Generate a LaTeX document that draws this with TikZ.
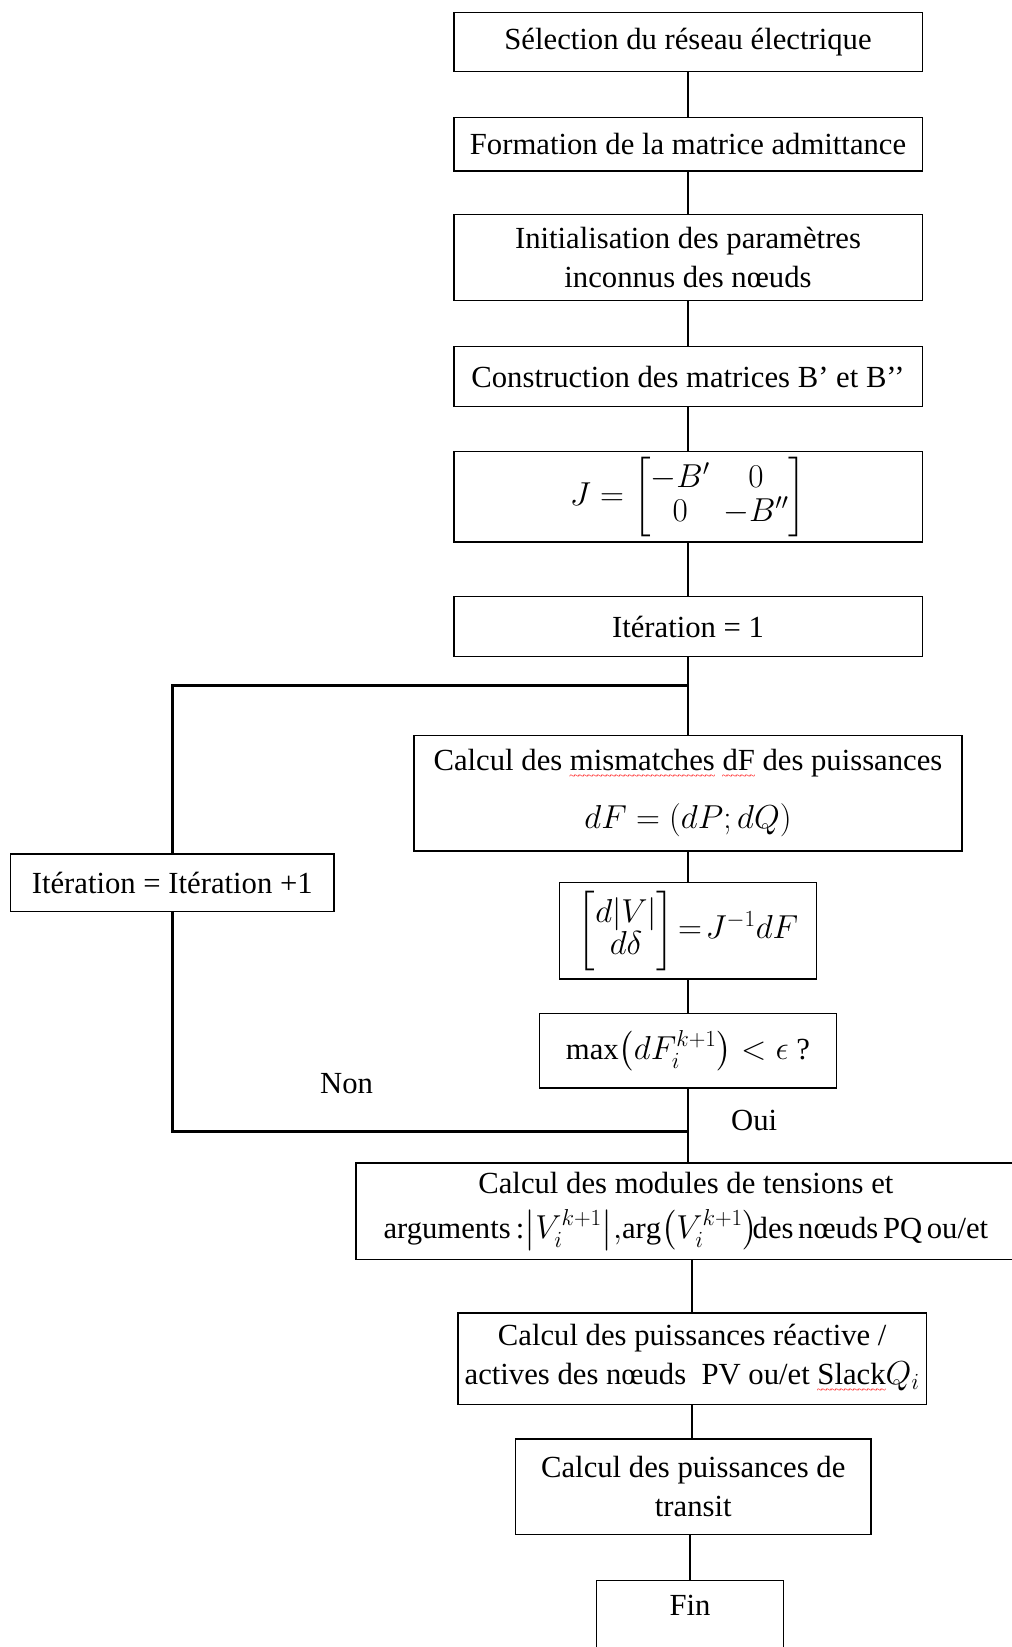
\documentclass[tikz,border=0pt]{standalone}
\usepackage{fontspec}
\setmainfont{Liberation Serif}
\usepackage{amsmath}
\usepackage{xcolor}
% red wavy underline, as left by a spell checker
\newcommand\spellwave[1]{\setbox0=\hbox{#1}\leavevmode
  \rlap{\lower7pt\hbox to\wd0{\color{red}\fontsize{8}{8}\selectfont
    \xleaders\hbox{\kern-0.5pt\textasciitilde\kern-0.5pt}\hfill}}#1}
\newcommand\uu{0.78735pt}

\begin{document}
\begin{tikzpicture}[x=0.78735pt, y=-0.78735pt,
  stepbox/.style={draw, line width=1.1pt, inner sep=0pt, align=center,
    font=\fontsize{23}{29}\selectfont},
  link/.style={line width=1.9pt},
  looplink/.style={line width=2.3pt},
  plain/.style={inner sep=0pt, font=\fontsize{23}{29}\selectfont}]
\useasboundingbox (0,0) rectangle (963,1568);

% main column
\node[stepbox, minimum width=446*\uu, minimum height=56*\uu] (b1) at (655,40)
  {Sélection du réseau électrique};
\node[stepbox, minimum width=446*\uu, minimum height=51*\uu] (b2) at (655,137.5)
  {Formation de la matrice admittance};
\node[stepbox, minimum width=446*\uu, minimum height=82*\uu] (b3) at (655,245)
  {Initialisation des paramètres\\inconnus des nœuds};
\node[stepbox, minimum width=446*\uu, minimum height=57*\uu] (b4) at (655,358.5)
  {Construction des matrices B’ et B’’};
\node[stepbox, minimum width=446*\uu, minimum height=86*\uu] (b5) at (655,473)
  {\renewcommand\arraystretch{0.8}$J=\begin{bmatrix}-B' & 0\\ 0 & -B''\end{bmatrix}$};
\node[stepbox, minimum width=446*\uu, minimum height=57*\uu] (b6) at (655,596.5)
  {Itération = 1};
\node[stepbox, minimum width=522*\uu, minimum height=110*\uu] (b7) at (655,755)
  {Calcul des \spellwave{mismatches} \spellwave{dF} des puissances\\[15pt]$dF=(dP;dQ)$};
\node[stepbox, minimum width=245*\uu, minimum height=92*\uu] (b8) at (655,886)
  {\renewcommand\arraystretch{0.8}$\begin{bmatrix}d|V|\\ d\delta\end{bmatrix}\!=\!J^{-1}dF$};
\node[stepbox, minimum width=283*\uu, minimum height=71*\uu] (b9) at (655,1000.5)
  {$\max\!\left(dF_i^{k+1}\right)<\epsilon$ ?};

% loop box
\node[stepbox, minimum width=308*\uu, minimum height=55*\uu] (bl) at (164,840.5)
  {Itération = Itération +1};

% final steps
\node[stepbox, minimum width=628*\uu, minimum height=92*\uu] (b10) at (653,1153)
  {Calcul des modules de tensions et\\[5pt]
   {\spaceskip=3.5pt plus 1pt minus 1pt arguments\,:$\bigl|V_i^{k+1}\bigr|,\!\arg\bigl(V_i^{k+1}\bigr)\!$des nœuds PQ ou/et}};
\node[stepbox, minimum width=446*\uu, minimum height=87*\uu] (b11) at (659,1293.5)
  {Calcul des puissances réactive /\\actives des nœuds~ PV ou/et \spellwave{Slack}$Q_i$};
\node[stepbox, minimum width=338*\uu, minimum height=91*\uu] (b12) at (660,1415.5)
  {Calcul des puissances de\\transit};
\node[stepbox, minimum width=178*\uu, anchor=north, inner ysep=11pt, text depth=80pt]
  (fin) at (657,1504) {Fin};

% branch labels
\node[plain] (non) at (330,1032) {Non};
\node[plain] (oui) at (718,1067) {Oui};

% junctions of the iteration loop
\coordinate (jtop) at (655,653);
\coordinate (jbot) at (655,1077);

% connectors
\draw[link] (b1.south) -- (b2.north);
\draw[link] (b2.south) -- (b3.north);
\draw[link] (b3.south) -- (b4.north);
\draw[link] (b4.south) -- (b5.north);
\draw[link] (b5.south) -- (b6.north);
\draw[link] (b6.south) -- (b7.north);
\draw[link] (b7.south) -- (b8.north);
\draw[link] (b8.south) -- (b9.north);
\draw[link] (b9.south) -- (b9.south |- b10.north);
\draw[looplink] (jtop) -| (bl.north);
\draw[looplink] (bl.south) |- (jbot);
\draw[link] (b11.north |- b10.south) -- (b11.north);
\draw[link] (b11.south) -- (b11.south |- b12.north);
\draw[link] (fin.north |- b12.south) -- (fin.north);
\end{tikzpicture}
\end{document}
